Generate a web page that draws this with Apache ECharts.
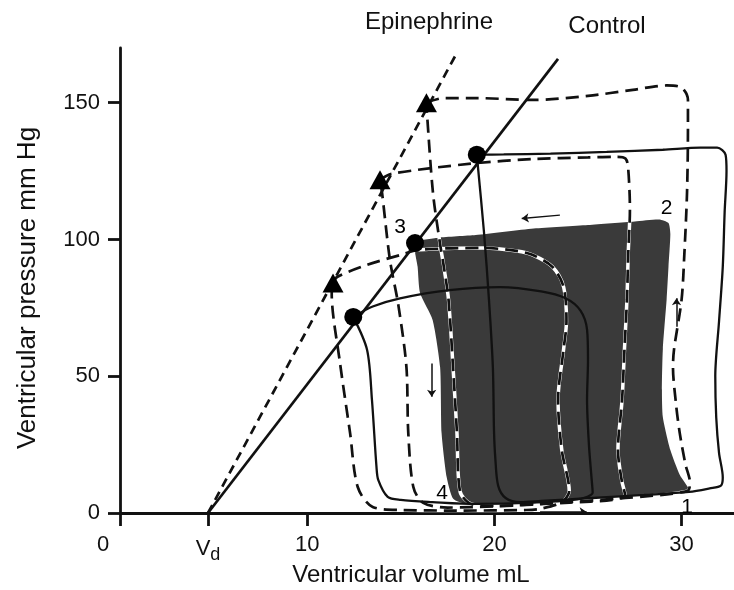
<!DOCTYPE html>
<html><head><meta charset="utf-8">
<script src="https://cdn.jsdelivr.net/npm/echarts@6/dist/echarts.min.js"></script>
<style>html,body{margin:0;padding:0;background:#fff}#c{width:734px;height:590px}</style>
</head><body><div id="c"></div>
<script>
// ---- data (mL, mm Hg) ----
const Vd = 4.7;
const xTickValues = [0, Vd, 10, 20, 30];
const yTickValues = [0, 50, 100, 150];
const ctrlEspvr = [[Vd, 0], [23.4, 166]];
const epiEspvr = [[Vd, 0], [17.9, 167]];
const ctrlEndSystolic = [[19.06, 131], [15.76, 98.7], [12.46, 71.7]];
const epiEndSystolic = [[16.37, 150], [13.89, 121.8], [11.38, 84.1]];
// control loops (solid)
const ctrlLoopLarge = [[19.06,131],[20.5,131.1],[23,131.4],[26,132],[29,132.8],[31,133.6],[31.9,133.6],[32.35,131],[32.4,125],[32.3,110],[32.2,90],[32.0,70],[31.8,50],[31.85,35],[32.0,22],[32.2,13],[32.1,10],[31.5,9],[30.4,7.7],[28,6.6],[25,5.4],[22.5,4.4],[21.4,4.0],[20.6,5.5],[20.2,10],[20.05,20],[19.98,30],[19.92,53],[19.71,78],[19.44,103],[19.06,131]];
const ctrlLoopShaded = [[15.76,98.7],[17,100.6],[19,101.6],[22.1,104.0],[25,105.3],[27.5,106.6],[28.8,107.3],[29.3,106],[29.4,102],[29.3,90],[29.2,78],[29.0,60],[28.95,45],[29.0,35],[29.4,23],[29.9,14],[30.4,8.6],[30.2,7.6],[27,6.2],[24,4.8],[22,3.6],[20,3.0],[18.5,3.3],[17.8,5.2],[17.45,13.2],[17.18,29.2],[17.1,53.4],[16.7,70.6],[16.03,80.4],[15.9,90]];
const ctrlLoopSmall = [[12.46,71.7],[13.5,75.5],[14.96,78.5],[17.6,81.5],[20.3,82.6],[22.5,81],[23.8,78.5],[24.6,74],[24.95,67],[25.0,56],[24.95,41.3],[25.05,25],[25.2,12],[25.25,7.5],[24.6,5.2],[22,3.8],[19,3.3],[16.7,4.0],[15,4.8],[14.3,5.9],[13.8,12],[13.7,17],[13.46,41.3],[13.2,59.6],[12.46,71.7]];
// epinephrine loops (dashed)
const epiLoopLarge = [[16.37,150],[17.3,151.7],[19,151.7],[22.06,151],[25,152.5],[27.4,154.7],[29.2,156.3],[30.0,155.5],[30.34,151],[30.34,141],[30.29,117],[30.15,95],[30.0,78],[29.6,60],[29.54,53.4],[29.7,40],[29.9,29.3],[30.2,18],[30.45,11],[30.3,8],[27,5.5],[23,3.6],[20,2.6],[18.8,3.2],[18.16,8],[18.0,29.3],[17.79,53.4],[17.55,78],[17.3,90],[17.09,98.7],[16.72,117],[16.4,146],[16.37,150]];
const epiLoopMid = [[13.89,121.8],[14.5,124],[18.86,127.8],[22.06,129.4],[25,130],[26.55,130.2],[27.0,129.6],[27.14,126.5],[27.24,110.8],[27.15,95],[27.08,77.9],[26.95,60],[26.82,41.3],[26.6,23],[26.8,12],[26.98,6.5],[26.3,4.8],[24,3.8],[20,2.4],[17.5,2.0],[16.2,3.7],[15.67,9.5],[15.4,29.3],[15.3,53.4],[14.87,76],[14.42,92.5],[14.0,117],[13.89,121.8]];
const epiLoopSmall = [[11.38,84.1],[11.6,86.3],[13.2,90.7],[14.96,94.3],[16.0,96.2],[19.4,96.9],[21.2,95.8],[22.06,94.3],[23.1,90],[23.7,82.6],[23.85,70],[23.7,60],[23.4,41.3],[23.6,23],[24.0,8],[23.6,4],[22.5,1.6],[21.7,1.1],[18,0.9],[15,1.1],[13.5,2.2],[12.7,9.5],[12.29,29.3],[11.75,55],[11.31,80.4],[11.38,84.1]];
// direction arrows
const arrowPaths = [[[23.5,108.9],[21.46,107.7]], [[16.65,54.7],[16.65,42.5]], [[29.73,68.1],[29.73,78.5]], [[22.44,0.4],[24.93,0.4]]];
// corner numbers
const cornerNames = ['1', '2', '3', '4'];
const cornerPoints = [[30.3, 2.2], [29.2, 111.5], [14.96, 104.6], [17.2, 7.3]];
const xTitle = 'Ventricular volume mL';
const yTitle = 'Ventricular pressure mm Hg';
const lineNames = ['Epinephrine', 'Control'];

// ---- chart ----
const FONT = "'Liberation Sans', Arial, Helvetica, sans-serif";
const INK = '#111';
const chart = echarts.init(document.getElementById('c'), null, {renderer: 'canvas'});

function solid(data, w) {
  return {type: 'line', data, showSymbol: false, symbol: 'none', smooth: 0.3, z: 3,
    lineStyle: {color: INK, width: w || 2.3}, silent: true};
}
function dashed(data, dash, w) {
  return {type: 'line', data, showSymbol: false, symbol: 'none', smooth: 0.3, z: 4,
    lineStyle: {color: INK, width: w || 2.7, type: dash || [13, 7]}, silent: true};
}
function under(data) {
  return {type: 'line', data, showSymbol: false, symbol: 'none', smooth: 0.3, z: 2,
    lineStyle: {color: '#fff', width: 3.5}, silent: true};
}

const option = {
  animation: false,
  backgroundColor: '#fff',
  grid: {left: 120, right: 0, top: 48, bottom: 77, containLabel: false},
  xAxis: {
    type: 'value', min: 0, max: 32.8,
    splitLine: {show: false},
    axisLine: {onZero: false, lineStyle: {color: INK, width: 2.8}},
    axisTick: {customValues: xTickValues, length: 13, lineStyle: {color: INK, width: 2.8}},
    axisLabel: {
      customValues: xTickValues, margin: 21, color: INK, fontSize: 22, fontFamily: FONT,
      formatter: v => v === 0 ? '{z|0}' : (v === Vd ? '{v|V}{d|d}' : String(v)),
      rich: {
        z: {fontSize: 22, fontFamily: FONT, color: INK, padding: [0, 34, 0, 0]},
        v: {fontSize: 22, fontFamily: FONT, color: INK},
        d: {fontSize: 18, fontFamily: FONT, color: INK, padding: [12, 0, 0, 0]}
      }
    }
  },
  yAxis: {
    type: 'value', min: 0, max: 170,
    splitLine: {show: false},
    axisLine: {onZero: false, lineStyle: {color: INK, width: 2.8}},
    axisTick: {customValues: yTickValues, length: 12, lineStyle: {color: INK, width: 2.8}},
    axisLabel: {customValues: yTickValues, margin: 20, color: INK, fontSize: 22, fontFamily: FONT}
  },
  graphic: [
    {type: 'text', x: 411, y: 575, style: {text: xTitle, align: 'center', verticalAlign: 'middle', font: `24px ${FONT}`, fill: INK}},
    {type: 'text', x: 28, y: 288, rotation: Math.PI / 2, style: {text: yTitle, align: 'center', verticalAlign: 'middle', font: `26px ${FONT}`, fill: INK}},
    {type: 'text', x: 429, y: 22, style: {text: lineNames[0], align: 'center', verticalAlign: 'middle', font: `24px ${FONT}`, fill: INK}},
    {type: 'text', x: 607, y: 26, style: {text: lineNames[1], align: 'center', verticalAlign: 'middle', font: `24px ${FONT}`, fill: INK}}
  ],
  series: [
    {
      type: 'custom', z: 1, silent: true, data: [[0, 0]],
      renderItem: (params, api) => ({
        type: 'polygon',
        shape: {points: ctrlLoopShaded.map(p => api.coord(p)), smooth: 0.2},
        style: {fill: '#3a3a3a'}
      })
    },
    under(epiLoopLarge), under(epiLoopMid), under(epiLoopSmall),
    {type: 'line', data: ctrlEspvr, showSymbol: false, symbol: 'none', z: 3, lineStyle: {color: INK, width: 2.7}, silent: true},
    {type: 'line', data: epiEspvr, showSymbol: false, symbol: 'none', z: 3, lineStyle: {color: INK, width: 2.7, type: [9, 6]}, silent: true},
    solid(ctrlLoopLarge), solid(ctrlLoopSmall),
    dashed(epiLoopLarge), dashed(epiLoopMid), dashed(epiLoopSmall),
    {type: 'scatter', data: ctrlEndSystolic, symbol: 'circle', symbolSize: 18, z: 6, itemStyle: {color: '#000', opacity: 1}, silent: true},
    {type: 'scatter', data: epiEndSystolic, symbol: 'triangle', symbolSize: [21, 19], z: 6, itemStyle: {color: '#000', opacity: 1}, silent: true},
    {type: 'lines', coordinateSystem: 'cartesian2d', z: 5, silent: true,
      data: arrowPaths.map(c => ({coords: c})),
      symbol: ['none', 'arrow'], symbolSize: 7,
      lineStyle: {color: INK, width: 1.5, opacity: 1}},
    {type: 'scatter', z: 6, silent: true, symbolSize: 1, itemStyle: {color: '#fff', opacity: 0},
      data: cornerNames.map((n, i) => ({name: n, value: cornerPoints[i]})),
      label: {show: true, position: 'inside', formatter: '{b}', fontSize: 21, fontFamily: FONT, color: '#000', opacity: 1}}
  ]
};
chart.setOption(option);
</script>
</body></html>
